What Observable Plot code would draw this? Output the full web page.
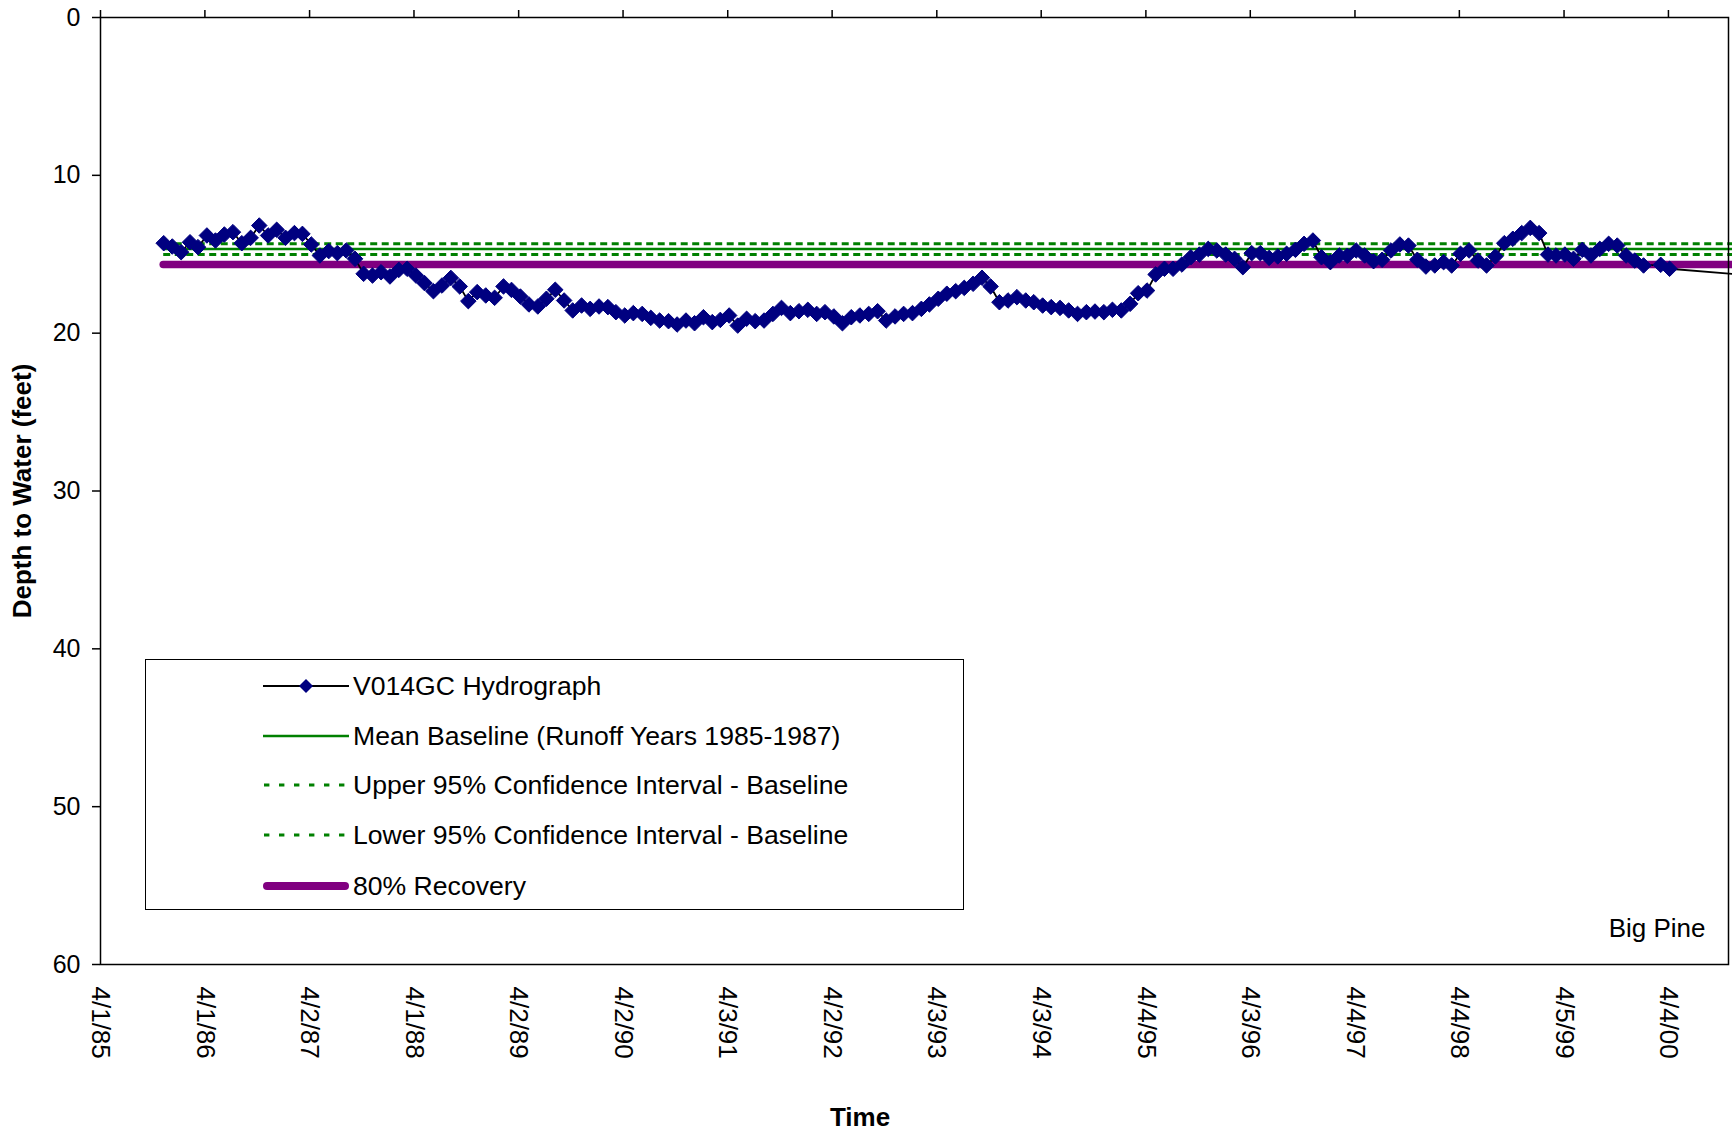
<!DOCTYPE html>
<html><head><meta charset="utf-8">
<script src="https://cdn.jsdelivr.net/npm/d3@7"></script>
<script src="https://cdn.jsdelivr.net/npm/@observablehq/plot@0.6"></script>
<style>
html,body{margin:0;padding:0;background:#fff;overflow:hidden;}
#wrap{position:relative;width:1732px;height:1133px;font-family:Arial,"Liberation Sans",Helvetica,sans-serif;color:#000;}
#wrap svg{overflow:hidden;}
.title{position:absolute;font-weight:bold;font-size:26px;white-space:nowrap;}
#legend{position:absolute;left:145px;top:659px;width:819px;height:251px;border:1.5px solid #000;background:#fff;box-sizing:border-box;}
.lrow{position:absolute;left:117px;height:40px;display:flex;align-items:center;font-size:26.6px;white-space:nowrap;}
.lrow svg{flex:none;margin-right:4px;}
</style></head><body>
<div id="wrap"></div>
<script>
// ---------- data ----------
const tickLabels = ["4/1/85","4/1/86","4/2/87","4/1/88","4/2/89","4/2/90","4/3/91","4/2/92",
  "4/3/93","4/3/94","4/4/95","4/3/96","4/4/97","4/4/98","4/5/99","4/4/00"];
const yTicks = [0, 10, 20, 30, 40, 50, 60];
const xDomainEnd = "2000-10-31";

const readDates = [
  "1985-11","1985-12",
  "1986-01","1986-02","1986-03","1986-04","1986-05","1986-06","1986-07","1986-08","1986-09","1986-10","1986-11","1986-12",
  "1987-01","1987-02","1987-03","1987-04","1987-05","1987-06","1987-07","1987-08","1987-09","1987-10","1987-11","1987-12",
  "1988-01","1988-02","1988-03","1988-04","1988-05","1988-06","1988-07","1988-08","1988-09","1988-10","1988-11","1988-12",
  "1989-01","1989-02","1989-03","1989-04","1989-05","1989-06","1989-07","1989-08","1989-09","1989-10","1989-11","1989-12",
  "1990-01","1990-02","1990-03","1990-04","1990-05","1990-06","1990-07","1990-08","1990-09","1990-10","1990-11","1990-12",
  "1991-01","1991-02","1991-03","1991-04","1991-05","1991-06","1991-07","1991-08","1991-09","1991-10","1991-11","1991-12",
  "1992-01","1992-02","1992-03","1992-04","1992-05","1992-06","1992-07","1992-08","1992-09","1992-10","1992-11","1992-12",
  "1993-01","1993-02","1993-03","1993-04","1993-05","1993-06","1993-07","1993-08","1993-09","1993-10","1993-11","1993-12",
  "1994-01","1994-02","1994-03","1994-04","1994-05","1994-06","1994-07","1994-08","1994-09","1994-10","1994-11","1994-12",
  "1995-01","1995-02","1995-03","1995-04","1995-05","1995-06","1995-07","1995-08","1995-09","1995-10","1995-11","1995-12",
  "1996-01","1996-02","1996-03","1996-04","1996-05","1996-06","1996-07","1996-08","1996-09","1996-10","1996-11","1996-12",
  "1997-01","1997-02","1997-03","1997-04","1997-05","1997-06","1997-07","1997-08","1997-09","1997-10","1997-11","1997-12",
  "1998-01","1998-02","1998-03","1998-04","1998-05","1998-06","1998-07","1998-08","1998-09","1998-10","1998-11","1998-12",
  "1999-01","1999-02","1999-03","1999-04","1999-05","1999-06","1999-07","1999-08","1999-09","1999-10","1999-11","1999-12",
  "2000-01","2000-03","2000-04"
];
const depths = [
  14.30,14.51,
  14.87,14.24,14.55,13.81,14.13,13.75,13.60,14.30,13.96,13.18,13.81,13.45,
  13.96,13.66,13.71,14.38,15.08,14.80,14.93,14.76,15.29,16.24,16.35,16.14,
  16.41,15.99,15.92,16.35,16.83,17.34,16.98,16.50,17.04,17.97,17.40,17.61,
  17.76,17.04,17.26,17.68,18.18,18.31,17.82,17.25,17.93,18.56,18.25,18.46,
  18.31,18.35,18.67,18.88,18.73,18.78,19.03,19.20,19.24,19.45,19.20,19.37,
  18.99,19.30,19.16,18.88,19.52,19.09,19.24,19.20,18.78,18.40,18.73,18.61,
  18.52,18.78,18.67,18.94,19.37,18.99,18.88,18.78,18.61,19.20,18.94,18.78,
  18.73,18.46,18.18,17.82,17.50,17.34,17.13,16.87,16.49,17.04,18.04,17.93,
  17.72,17.93,18.04,18.25,18.35,18.40,18.56,18.78,18.67,18.63,18.67,18.52,
  18.56,18.14,17.47,17.30,16.28,15.92,15.92,15.65,15.19,15.02,14.66,14.76,
  15.02,15.29,15.82,14.93,14.93,15.23,15.14,14.97,14.72,14.34,14.13,15.19,
  15.50,15.08,15.10,14.76,15.08,15.44,15.35,14.76,14.38,14.45,15.35,15.78,
  15.71,15.50,15.71,14.97,14.76,15.40,15.71,15.14,14.30,14.02,13.66,13.33,
  13.66,15.02,15.08,15.02,15.29,14.72,15.08,14.66,14.34,14.45,15.08,15.40,
  15.71,15.67,15.92
];
const readingDay = "08";
// next reading lies beyond the right edge of the picture
const tailDate = "2001-08";
const tailDepth = 16.65;

const meanBaseline = 14.66;
const upperCI = 14.34;
const lowerCI = 15.02;
const recovery80 = 15.65;
const baselineStart = "1985-11";
const baselineEnd = "2001-06";

const legendLabels = [
  "V014GC Hydrograph",
  "Mean Baseline (Runoff Years 1985-1987)",
  "Upper 95% Confidence Interval - Baseline",
  "Lower 95% Confidence Interval - Baseline",
  "80% Recovery"
];
const siteLabel = "Big Pine";
const xTitle = "Time";
const yTitle = "Depth to Water (feet)";

// ---------- build ----------
const FONT = 'Arial, "Liberation Sans", Helvetica, sans-serif';
const parseTick = d3.utcParse("%m/%d/%y");
const parseDay = d3.utcParse("%Y-%m-%d");
const parseMonth = s => parseDay(s + "-" + readingDay);
const tickDates = tickLabels.map(parseTick);
const labelByTime = new Map(tickDates.map((d, i) => [+d, tickLabels[i]]));

const pts = readDates.map((d, i) => ({date: parseMonth(d), depth: depths[i]}));
const linePts = pts.concat([{date: parseMonth(tailDate), depth: tailDepth}]);
const bStart = parseMonth(baselineStart);
const bEnd = parseMonth(baselineEnd);

const chart = Plot.plot({
  width: 1732,
  height: 1133,
  marginTop: 17,
  marginLeft: 100,
  marginRight: 4,
  marginBottom: 169,
  style: {fontFamily: FONT, fontSize: "26px", color: "#000", background: "transparent"},
  x: {type: "utc", domain: [tickDates[0], parseDay(xDomainEnd)], label: null},
  y: {domain: [0, 60], reverse: true, label: null},
  marks: [
    Plot.ruleY([recovery80], {x1: () => bStart, x2: () => bEnd, stroke: "#800080", strokeWidth: 7.5, strokeLinecap: "round"}),
    Plot.ruleY([upperCI, lowerCI], {x1: () => bStart, x2: () => bEnd, stroke: "#008000", strokeWidth: 3, strokeDasharray: "7,4.5"}),
    Plot.ruleY([meanBaseline], {x1: () => bStart, x2: () => bEnd, stroke: "#008000", strokeWidth: 2.5}),
    Plot.line(linePts, {x: "date", y: "depth", stroke: "#000", strokeWidth: 1.8}),
    Plot.dot(pts, {x: "date", y: "depth", symbol: "diamond2", r: 7.0, fill: "#000080", stroke: "#000080", strokeWidth: 1}),
    Plot.frame({stroke: "#000", strokeWidth: 1.5}),
    Plot.axisY({ticks: yTicks, tickSize: 8, tickPadding: 12, fontSize: 25, label: null, strokeWidth: 1.5}),
    Plot.axisX({anchor: "top", ticks: tickDates, tickSize: 8, tickFormat: () => "", label: null, strokeWidth: 1.5}),
    Plot.axisX({anchor: "bottom", ticks: tickDates, tickSize: 0, tickPadding: 22, tickRotate: 90,
      tickFormat: d => labelByTime.get(+d), label: null, fontSize: 26}),
    Plot.text([siteLabel], {frameAnchor: "bottom-right", dx: -23, dy: -36, textAnchor: "end", lineAnchor: "middle", fontSize: 26, fill: "#000"})
  ]
});

const wrap = document.getElementById("wrap");
wrap.appendChild(chart);

// axis titles
const yt = document.createElement("div");
yt.className = "title";
yt.textContent = yTitle;
yt.style.left = "22px"; yt.style.top = "491px";
yt.style.transform = "translate(-50%,-50%) rotate(-90deg)";
wrap.appendChild(yt);

const xt = document.createElement("div");
xt.className = "title";
xt.textContent = xTitle;
xt.style.left = "860px"; xt.style.top = "1117px";
xt.style.transform = "translate(-50%,-50%)";
wrap.appendChild(xt);

// legend
const leg = document.createElement("div");
leg.id = "legend";
wrap.appendChild(leg);
const rowCenters = [26, 76, 125, 175, 226];
const NS = "http://www.w3.org/2000/svg";
function sample(kind) {
  const s = document.createElementNS(NS, "svg");
  s.setAttribute("width", 86); s.setAttribute("height", 40);
  const ln = (attrs) => { const l = document.createElementNS(NS, "line");
    l.setAttribute("x1", attrs.x1 ?? 0); l.setAttribute("x2", attrs.x2 ?? 86);
    l.setAttribute("y1", 20); l.setAttribute("y2", 20);
    for (const k in attrs.style) l.setAttribute(k, attrs.style[k]);
    s.appendChild(l); };
  if (kind === 0) {
    ln({style: {stroke: "#000", "stroke-width": 2}});
    const p = document.createElementNS(NS, "path");
    p.setAttribute("d", "M43,13L50,20L43,27L36,20Z");
    p.setAttribute("fill", "#000080");
    s.appendChild(p);
  } else if (kind === 1) {
    ln({style: {stroke: "#008000", "stroke-width": 2.5}});
  } else if (kind === 2 || kind === 3) {
    ln({x1: 1, style: {stroke: "#008000", "stroke-width": 3, "stroke-dasharray": "5.4,9.6"}});
  } else {
    ln({x1: 4, x2: 82, style: {stroke: "#800080", "stroke-width": 8, "stroke-linecap": "round"}});
  }
  return s;
}
legendLabels.forEach((lab, i) => {
  const r = document.createElement("div");
  r.className = "lrow";
  r.style.top = (rowCenters[i] - 20) + "px";
  r.appendChild(sample(i));
  const t = document.createElement("span");
  t.textContent = lab;
  r.appendChild(t);
  leg.appendChild(r);
});
</script>
</body></html>
